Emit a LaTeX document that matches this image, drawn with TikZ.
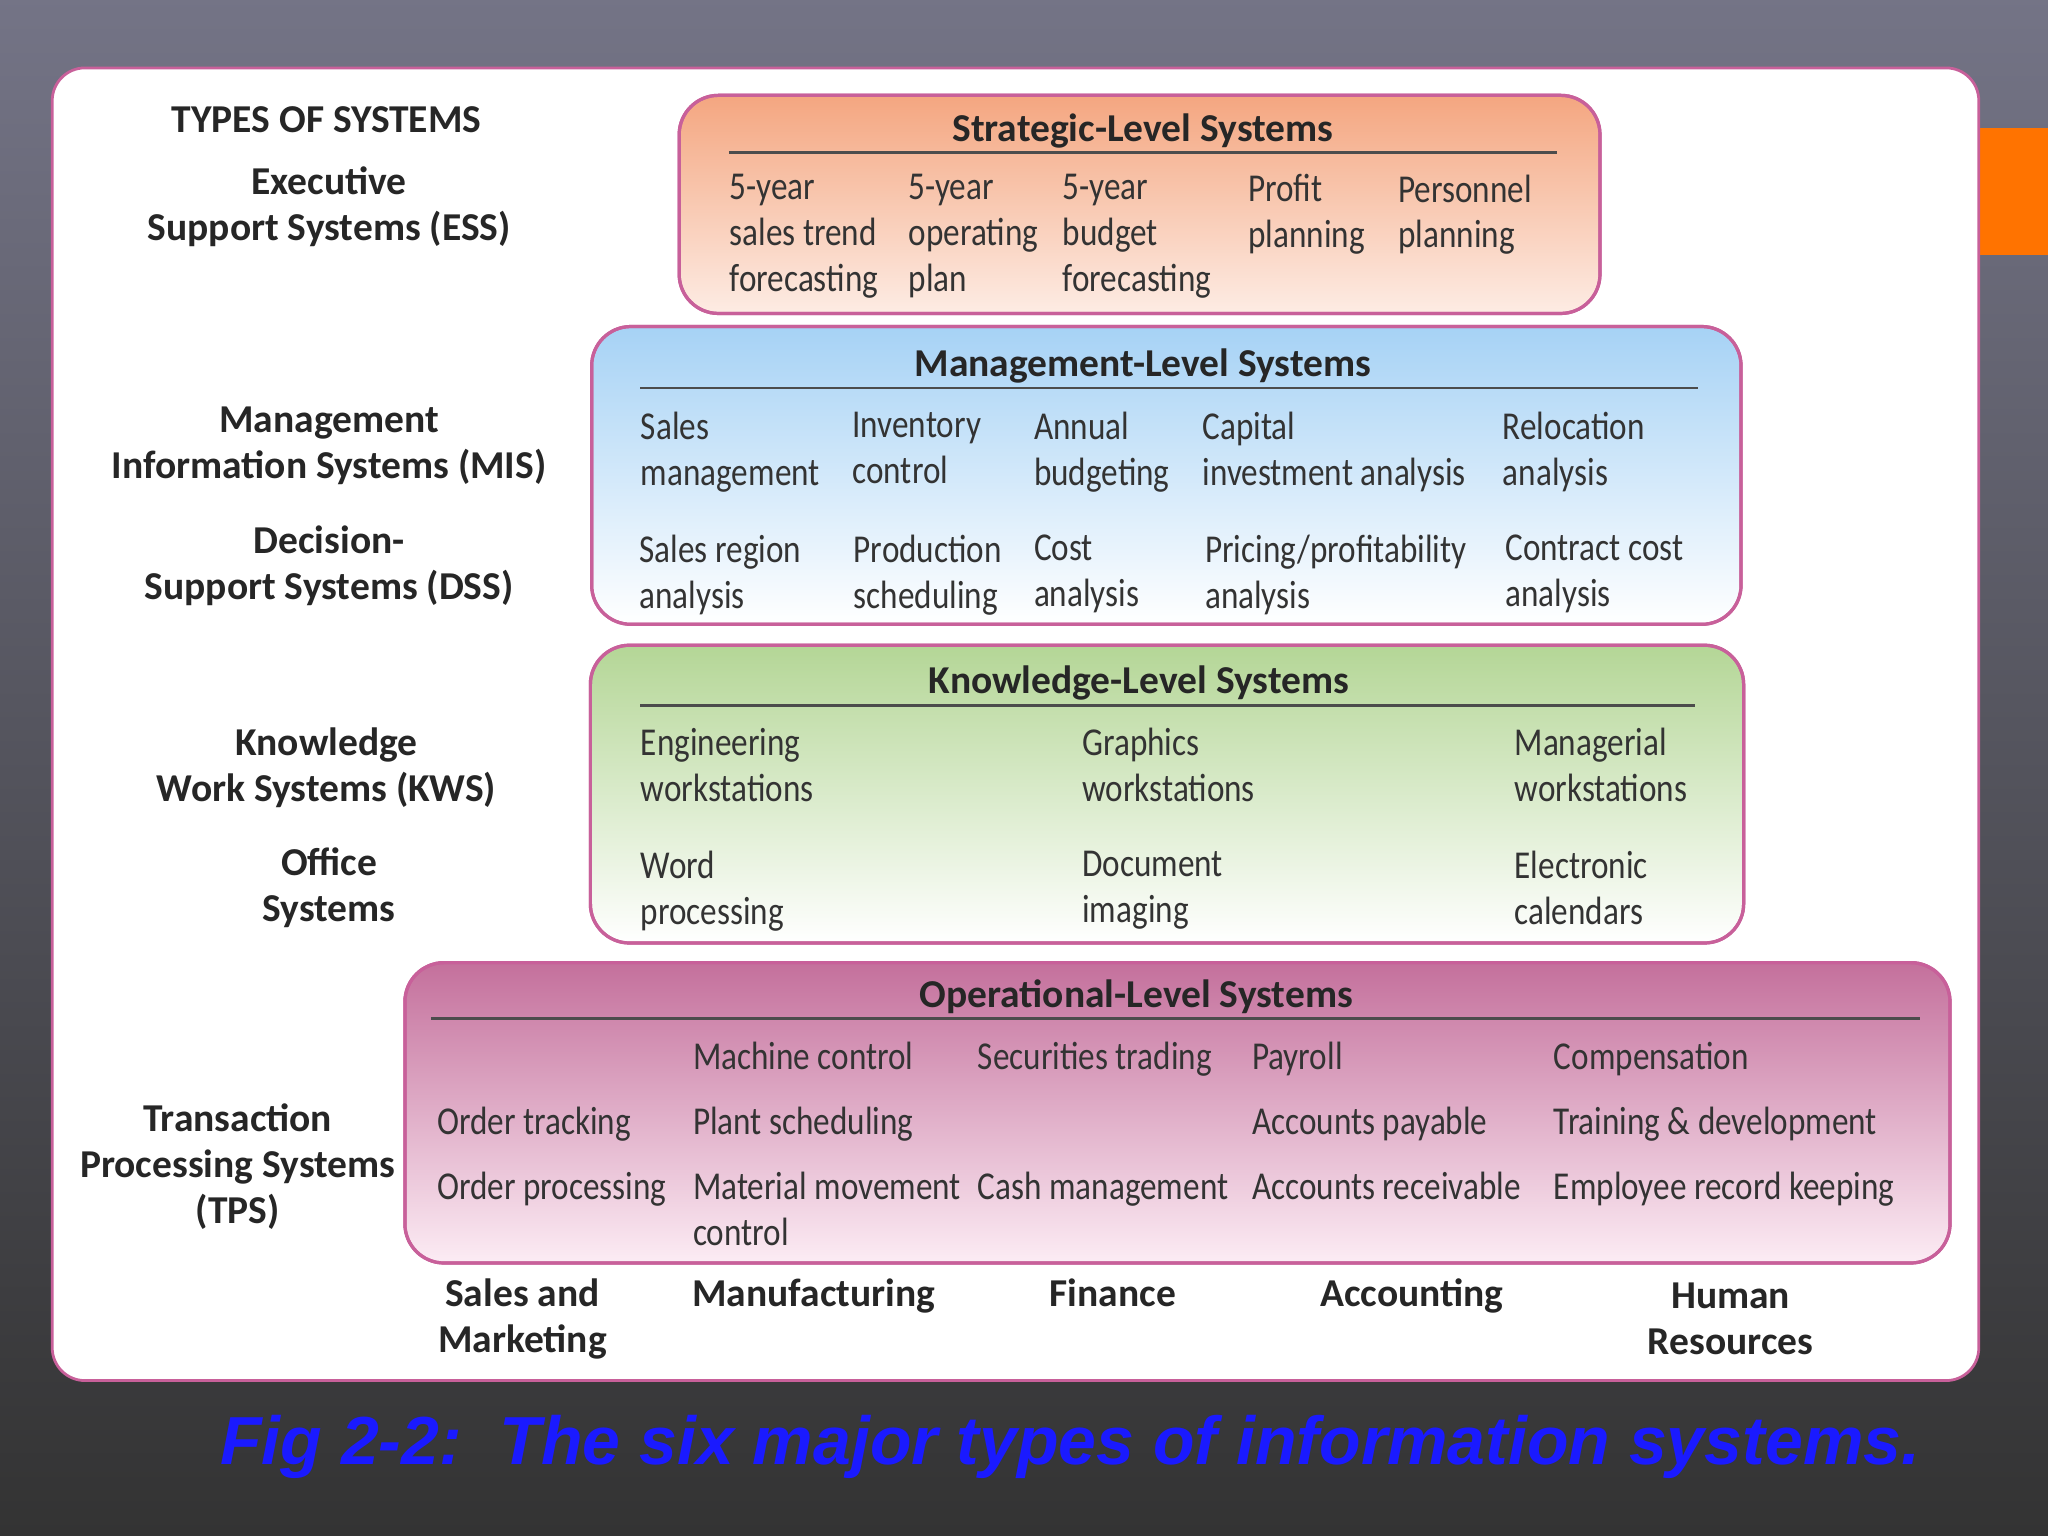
\documentclass[tikz,border=0pt]{standalone}
\usepackage{fontspec}
\setmainfont{Carlito}
\newfontfamily\itemfont{Carlito}[FakeStretch=0.84]
\newfontfamily\capfont{Liberation Sans}
\definecolor{panelline}{HTML}{C8609A}
\definecolor{txt}{HTML}{333333}
\definecolor{capblue}{HTML}{1A1AFF}
\begin{document}
\begin{tikzpicture}[x=0.01cm,y=-0.01cm,
  box/.style={draw=panelline, line width=0.7pt, rounded corners=0.3cm},
  item/.style={anchor=north west, align=left, inner sep=0pt, text=txt,
    font=\itemfont\fontsize{8.6}{10}\selectfont},
  lbl/.style={align=center, inner sep=0pt, text=black!85,
    font=\bfseries\fontsize{8.6}{10}\selectfont},
  ttl/.style={inner sep=0pt, text=black!85, font=\bfseries\fontsize{8.6}{10}\selectfont},
  rule/.style={draw=black!70, line width=0.6pt}]
\useasboundingbox (0,0) rectangle (1568,1176);
% background
\shade[top color=black!50!blue!15!gray!95, bottom color=black!80] (0,0) rectangle (1568,1176);
\fill[orange!90!red] (1515,98) rectangle (1568,195);
\draw[fill=white, draw=panelline, line width=0.6pt, rounded corners=0.25cm] (40,52) rectangle (1515,1057);
% level boxes
\shade[box, top color={rgb,255:red,244;green,166;blue,128}, bottom color={rgb,255:red,253;green,236;blue,228}] (520,73) rectangle (1225,240);
\draw[box] (520,73) rectangle (1225,240);
\shade[box, top color={rgb,255:red,166;green,210;blue,245}, bottom color=white] (453,250) rectangle (1333,478);
\draw[box] (453,250) rectangle (1333,478);
\shade[box, top color={rgb,255:red,180;green,214;blue,150}, bottom color=white] (452,494) rectangle (1335,722);
\draw[box] (452,494) rectangle (1335,722);
\shade[box, top color={rgb,255:red,196;green,112;blue,156}, bottom color={rgb,255:red,252;green,236;blue,244}] (310,737) rectangle (1493,967);
\draw[box] (310,737) rectangle (1493,967);
% titles
\node[ttl] (tstr) at (875,100) {Strategic-Level Systems};
\draw[rule] (558,117) -- (1192,117);
\node[ttl] (tman) at (875,280) {Management-Level Systems};
\draw[rule] (490,297) -- (1300,297);
\node[ttl] (tkno) at (872,523) {Knowledge-Level Systems};
\draw[rule] (490,540) -- (1298,540);
\node[ttl] (topr) at (870,763) {Operational-Level Systems};
\draw[rule] (330,780) -- (1470,780);
% left labels
\node[lbl] (types) at (250,92) {TYPES OF SYSTEMS};
\node[lbl] (ess) at (252,158) {Executive\\Support Systems (ESS)};
\node[lbl] (mis) at (252,341) {Management\\Information Systems (MIS)};
\node[lbl] (dss) at (252,433) {Decision-\\Support Systems (DSS)};
\node[lbl] (kws) at (250,588) {Knowledge\\Work Systems (KWS)};
\node[lbl] (off) at (252,680) {Office\\Systems};
\node[lbl] (tps) at (182,893) {Transaction\\Processing Systems\\(TPS)};
% bottom labels
\node[lbl] (sm) at (400,1010) {Sales and\\Marketing};
\node[lbl, anchor=base] (mf) at (623,1000) {Manufacturing};
\node[lbl, anchor=base] (fi) at (852,1000) {Finance};
\node[lbl, anchor=base] (ac) at (1081,1000) {Accounting};
\node[lbl] (hr) at (1325,1010) {Human\\Resources};
% strategic items
\node[item] (s1) at (558,133) {5-year\\sales trend\\forecasting};
\node[item] (s2) at (695,133) {5-year\\operating\\plan};
\node[item] (s3) at (813,133) {5-year\\budget\\forecasting};
\node[item] (s4) at (955,133) {Profit\\planning};
\node[item] (s5) at (1070,133) {Personnel\\planning};
% management items
\node[item] (m1) at (490,315) {Sales\\management};
\node[item] (m2) at (652,315) {Inventory\\control};
\node[item] (m3) at (791,315) {Annual\\budgeting};
\node[item] (m4) at (920,315) {Capital\\investment analysis};
\node[item] (m5) at (1150,315) {Relocation\\analysis};
\node[item] (d1) at (489,409) {Sales region\\analysis};
\node[item] (d2) at (653,409) {Production\\scheduling};
\node[item] (d3) at (791,409) {Cost\\analysis};
\node[item] (d4) at (922,409) {Pricing/profitability\\analysis};
\node[item] (d5) at (1152,409) {Contract cost\\analysis};
% knowledge items
\node[item] (k1) at (490,557) {Engineering\\workstations};
\node[item] (k2) at (828,557) {Graphics\\workstations};
\node[item] (k3) at (1159,557) {Managerial\\workstations};
\node[item] (o1) at (490,651) {Word\\processing};
\node[item] (o2) at (828,651) {Document\\imaging};
\node[item] (o3) at (1159,651) {Electronic\\calendars};
% operational items
\node[item] (p1) at (530,797) {Machine control};
\node[item] (p2) at (748,797) {Securities trading};
\node[item] (p3) at (958,797) {Payroll};
\node[item] (p4) at (1189,797) {Compensation};
\node[item] (p5) at (334,847) {Order tracking};
\node[item] (p6) at (530,847) {Plant scheduling};
\node[item] (p7) at (958,847) {Accounts payable};
\node[item] (p8) at (1189,847) {Training \& development};
\node[item] (p9) at (334,897) {Order processing};
\node[item] (p10) at (530,897) {Material movement\\control};
\node[item] (p11) at (748,897) {Cash management};
\node[item] (p12) at (958,897) {Accounts receivable};
\node[item] (p13) at (1189,897) {Employee record keeping};
% caption
\node[anchor=west, inner sep=0pt, text=capblue, font=\capfont\bfseries\itshape\fontsize{14.8}{16}\selectfont] (cap) at (168,1108) {Fig 2-2:\ \ The six major types of information systems.};
\end{tikzpicture}
\end{document}
